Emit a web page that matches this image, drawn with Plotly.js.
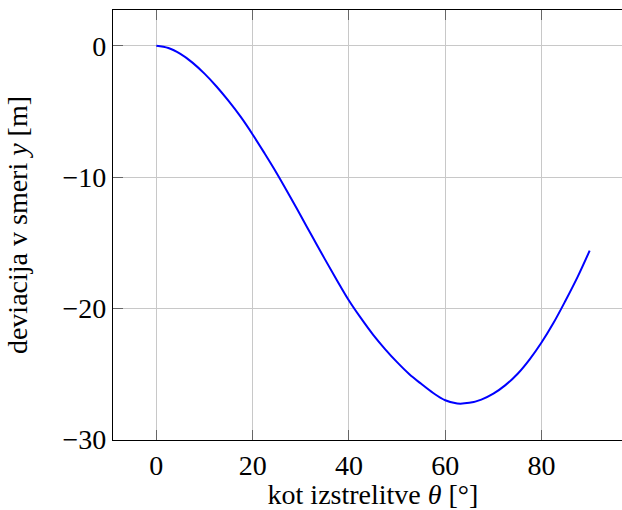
<!DOCTYPE html>
<html>
<head>
<meta charset="utf-8">
<script src="https://cdn.plot.ly/plotly-3.0.1.min.js"></script>
<style>
html, body { margin: 0; padding: 0; overflow: hidden; background: #fff; }
#chart { width: 634px; height: 510px; }
</style>
</head>
<body>
<div id="chart"></div>
<script>
// Launch angle theta [deg]
var theta = [0, 2.5, 5, 7.5, 10, 12.5, 15, 17.5, 20, 22.5, 25, 27.5, 30, 32.5, 35, 37.5, 40, 42.5, 45, 47.5,
             50, 52.5, 55, 57.5, 60, 62.5, 65, 67.5, 70, 72.5, 75, 77.5, 80, 82.5, 85, 87.5, 90];
// Deviation in y direction [m]
var deviation = [0, -0.17, -0.62, -1.28, -2.12, -3.1, -4.2, -5.4, -6.75, -8.2, -9.7, -11.3, -12.95, -14.6, -16.25, -17.85, -19.4, -20.75, -22.0, -23.1,
                 -24.1, -25.0, -25.75, -26.45, -27.0, -27.25, -27.2, -26.95, -26.5, -25.85, -25.0, -23.9, -22.6, -21.1, -19.4, -17.6, -15.6];
var xTicks = [0, 20, 40, 60, 80];
var yTicks = [0, -10, -20, -30];

var fontFamily = "'Liberation Serif', 'DejaVu Serif', serif";
var tickFont = { family: fontFamily, size: 28, color: '#000' };
var titleFont = { family: fontFamily, size: 28, color: '#000' };

var trace = {
  x: theta,
  y: deviation,
  type: 'scatter',
  mode: 'lines',
  line: { color: 'rgb(0,0,255)', width: 2, shape: 'spline', smoothing: 1 },
  hoverinfo: 'skip'
};

var axisCommon = {
  showline: true,
  linecolor: '#000',
  linewidth: 1.2,
  mirror: 'allticks',
  ticks: 'inside',
  ticklen: 10,
  tickwidth: 1,
  tickcolor: '#666',
  showgrid: true,
  gridcolor: '#c8c8c8',
  gridwidth: 1,
  zeroline: false,
  tickfont: tickFont
};

var layout = {
  width: 634,
  height: 510,
  margin: { l: 113, r: 1, t: 10, b: 70 },
  paper_bgcolor: '#fff',
  plot_bgcolor: '#fff',
  showlegend: false,
  font: tickFont,
  xaxis: Object.assign({}, axisCommon, {
    range: [-9, 99],
    tickmode: 'array',
    tickvals: xTicks,
    ticktext: xTicks.map(String),
    title: { text: 'kot izstrelitve <i>θ</i> [°]', font: titleFont, standoff: 6 }
  }),
  yaxis: Object.assign({}, axisCommon, {
    range: [-30.03, 2.73],
    tickmode: 'array',
    tickvals: yTicks,
    ticktext: yTicks.map(function (v) { return v < 0 ? '\u2212' + Math.abs(v) : String(v); }),
    title: { text: 'deviacija v smeri <i>y</i> [m]', font: titleFont, standoff: 26 }
  })
};

Plotly.newPlot('chart', [trace], layout, { staticPlot: true, displayModeBar: false });
</script>
</body>
</html>
